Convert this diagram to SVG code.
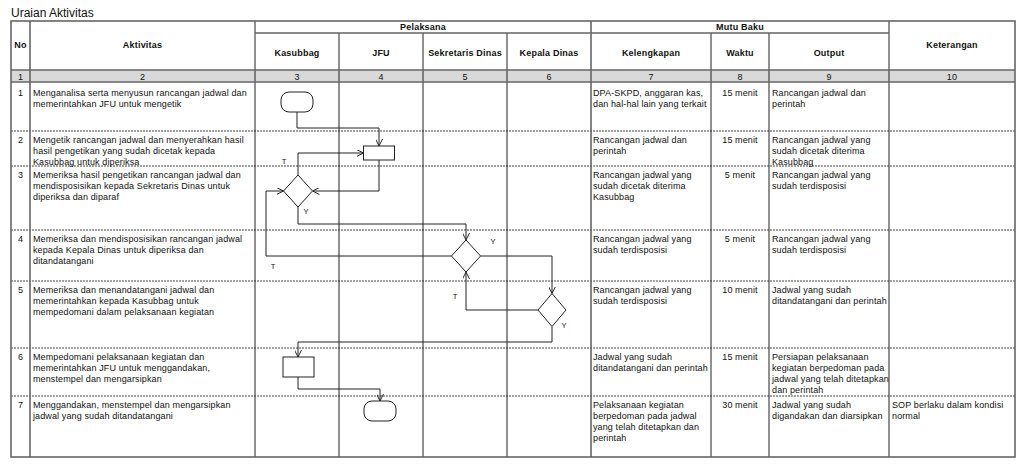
<svg xmlns="http://www.w3.org/2000/svg" width="1024" height="468" viewBox="0 0 1024 468">
<style>
.t{font-family:"Liberation Sans",Arial,sans-serif;font-size:9px;fill:#111;letter-spacing:0.12px}
.h{font-family:"Liberation Sans",Arial,sans-serif;font-size:9px;font-weight:bold;fill:#111;text-anchor:middle;letter-spacing:0.2px}
.c{text-anchor:middle}
.lbl{font-family:"Liberation Sans",Arial,sans-serif;font-size:7.5px;fill:#111;text-anchor:middle}
.gl{stroke:#666;stroke-width:1.6;fill:none}
.bl{stroke:#222;stroke-width:1;fill:none}
.dl{stroke:#444;stroke-width:1;stroke-dasharray:2,1;fill:none}
.shape{fill:#fff;stroke:#222;stroke-width:1}
.conn{fill:none;stroke:#222;stroke-width:1;marker-end:url(#arr)}
</style>
<defs>
<marker id="arr" viewBox="0 0 8 8" refX="8" refY="4" markerWidth="7" markerHeight="7" markerUnits="userSpaceOnUse" orient="auto">
<path d="M0,0 L8,4 L0,8" fill="none" stroke="#222" stroke-width="1.1"/>
</marker>
</defs>
<rect width="1024" height="468" fill="#fff"/>
<text x="11" y="17" style="font-family:'Liberation Sans',Arial,sans-serif;font-size:12px;fill:#111">Uraian Aktivitas</text>
<g id="table">
<rect x="11" y="70" width="1004" height="12" fill="#d9d9d9"/>
<g class="dl">
<path d="M11,131H1015M11,166H1015M11,230H1015M11,281H1015M11,348H1015M11,396H1015"/>
</g>
<g class="bl">
<path d="M339,33V457M423,33V457M507,33V457M711,33V457M769,33V457M889,21V457M255,21V457"/>
</g>
<g class="gl">
<rect x="11" y="21" width="1004" height="436"/>
<path d="M255,33H889M11,70H1015M11,82H1015M30,21V457M591,21V457"/>
</g>
<text class="h" x="20.5" y="48">No</text>
<text class="h" x="142.5" y="48">Aktivitas</text>
<text class="h" x="423" y="30">Pelaksana</text>
<text class="h" x="740" y="30">Mutu Baku</text>
<text class="h" x="952" y="48">Keterangan</text>
<text class="h" x="297" y="56">Kasubbag</text>
<text class="h" x="381" y="56">JFU</text>
<text class="h" x="465" y="56">Sekretaris Dinas</text>
<text class="h" x="549" y="56">Kepala Dinas</text>
<text class="h" x="651" y="56">Kelengkapan</text>
<text class="h" x="740" y="56">Waktu</text>
<text class="h" x="829" y="56">Output</text>
<g class="t c">
<text x="20.5" y="79.5">1</text><text x="142.5" y="79.5">2</text><text x="297" y="79.5">3</text><text x="381" y="79.5">4</text><text x="465" y="79.5">5</text><text x="549" y="79.5">6</text><text x="651" y="79.5">7</text><text x="740" y="79.5">8</text><text x="829" y="79.5">9</text><text x="952" y="79.5">10</text>
</g>
</g>
<g id="row1" class="t">
<text x="20.5" y="95.5" class="t c">1</text>
<text x="33" y="95.5">Menganalisa serta menyusun rancangan jadwal dan</text>
<text x="33" y="106.5">memerintahkan JFU untuk mengetik</text>
<text x="593" y="95.5">DPA-SKPD, anggaran kas,</text>
<text x="593" y="106.5">dan hal-hal lain yang terkait</text>
<text x="740" y="95.5" class="t c">15 menit</text>
<text x="772" y="95.5">Rancangan jadwal dan</text>
<text x="772" y="106.5">perintah</text>
</g>
<g id="row2" class="t">
<text x="20.5" y="142.5" class="t c">2</text>
<text x="33" y="142.5">Mengetik rancangan jadwal dan menyerahkan hasil</text>
<text x="33" y="153.5">hasil pengetikan yang sudah dicetak kepada</text>
<text x="33" y="164.5">Kasubbag untuk diperiksa</text>
<text x="593" y="142.5">Rancangan jadwal dan</text>
<text x="593" y="153.5">perintah</text>
<text x="740" y="142.5" class="t c">15 menit</text>
<text x="772" y="142.5">Rancangan jadwal yang</text>
<text x="772" y="153.5">sudah dicetak diterima</text>
<text x="772" y="164.5">Kasubbag</text>
</g>
<g id="row3" class="t">
<text x="20.5" y="177.5" class="t c">3</text>
<text x="33" y="177.5">Memeriksa hasil pengetikan rancangan jadwal dan</text>
<text x="33" y="188.5">mendisposisikan kepada Sekretaris Dinas  untuk</text>
<text x="33" y="199.5">diperiksa dan diparaf</text>
<text x="593" y="177.5">Rancangan jadwal yang</text>
<text x="593" y="188.5">sudah dicetak diterima</text>
<text x="593" y="199.5">Kasubbag</text>
<text x="740" y="177.5" class="t c">5 menit</text>
<text x="772" y="177.5">Rancangan jadwal yang</text>
<text x="772" y="188.5">sudah terdisposisi</text>
</g>
<g id="row4" class="t">
<text x="20.5" y="241.5" class="t c">4</text>
<text x="33" y="241.5">Memeriksa dan mendisposisikan rancangan jadwal</text>
<text x="33" y="252.5">kepada Kepala Dinas untuk diperiksa dan</text>
<text x="33" y="263.5">ditandatangani</text>
<text x="593" y="241.5">Rancangan jadwal yang</text>
<text x="593" y="252.5">sudah terdisposisi</text>
<text x="740" y="241.5" class="t c">5 menit</text>
<text x="772" y="241.5">Rancangan jadwal yang</text>
<text x="772" y="252.5">sudah terdisposisi</text>
</g>
<g id="row5" class="t">
<text x="20.5" y="292.5" class="t c">5</text>
<text x="33" y="292.5">Memeriksa dan menandatangani jadwal dan</text>
<text x="33" y="303.5">memerintahkan kepada Kasubbag untuk</text>
<text x="33" y="314.5">mempedomani dalam pelaksanaan kegiatan</text>
<text x="593" y="292.5">Rancangan jadwal yang</text>
<text x="593" y="303.5">sudah terdisposisi</text>
<text x="740" y="292.5" class="t c">10 menit</text>
<text x="772" y="292.5">Jadwal yang sudah</text>
<text x="772" y="303.5">ditandatangani dan perintah</text>
</g>
<g id="row6" class="t">
<text x="20.5" y="359.5" class="t c">6</text>
<text x="33" y="359.5">Mempedomani pelaksanaan kegiatan dan</text>
<text x="33" y="370.5">memerintahkan JFU untuk menggandakan,</text>
<text x="33" y="381.5">menstempel dan mengarsipkan</text>
<text x="593" y="359.5">Jadwal yang sudah</text>
<text x="593" y="370.5">ditandatangani dan perintah</text>
<text x="740" y="359.5" class="t c">15 menit</text>
<text x="772" y="359.5">Persiapan pelaksanaan</text>
<text x="772" y="370.5">kegiatan berpedoman pada</text>
<text x="772" y="381.5">jadwal yang telah ditetapkan</text>
<text x="772" y="392.5">dan perintah</text>
</g>
<g id="row7" class="t">
<text x="20.5" y="407.5" class="t c">7</text>
<text x="33" y="407.5">Menggandakan, menstempel dan mengarsipkan</text>
<text x="33" y="418.5">jadwal yang sudah ditandatangani</text>
<text x="593" y="407.5">Pelaksanaan kegiatan</text>
<text x="593" y="418.5">berpedoman pada jadwal</text>
<text x="593" y="429.5">yang telah ditetapkan dan</text>
<text x="593" y="440.5">perintah</text>
<text x="740" y="407.5" class="t c">30 menit</text>
<text x="772" y="407.5">Jadwal yang sudah</text>
<text x="772" y="418.5">digandakan dan diarsipkan</text>
<text x="892" y="407.5">SOP berlaku dalam kondisi</text>
<text x="892" y="418.5">normal</text>
</g>
<g id="connectors">
<path class="conn" d="M297,112V128H379V146"/>
<path class="conn" d="M379,160V191H312.5"/>
<path class="conn" d="M298,175V153H363.5"/>
<path class="conn" d="M298,207V224H466V240"/>
<path class="conn" d="M451.5,256H266V191H283.5"/>
<path class="conn" d="M480.5,256H552V293.5"/>
<path class="conn" d="M538,310H466V272"/>
<path class="conn" d="M552,326.5V342H298V357"/>
<path class="conn" d="M298,377V389H380V401"/>
<text class="lbl" x="284" y="164">T</text>
<text class="lbl" x="306" y="214">Y</text>
<text class="lbl" x="273" y="269">T</text>
<text class="lbl" x="493" y="244">Y</text>
<text class="lbl" x="455" y="299">T</text>
<text class="lbl" x="564" y="328">Y</text>
</g>
<g id="start"><rect class="shape" x="281" y="92" width="32" height="20" rx="8"/></g>
<g id="ketik"><rect class="shape" x="363.5" y="146" width="31" height="14"/></g>
<g id="cek-kasubbag"><polygon class="shape" points="298,175 312.5,191 298,207 283.5,191"/></g>
<g id="cek-sekretaris"><polygon class="shape" points="466,240 480.5,256 466,272 451.5,256"/></g>
<g id="cek-kepala"><polygon class="shape" points="552,293.5 566,310 552,326.5 538,310"/></g>
<g id="pedomani"><rect class="shape" x="283" y="357" width="31" height="20"/></g>
<g id="end"><rect class="shape" x="364" y="401" width="32" height="20" rx="8"/></g>
</svg>
